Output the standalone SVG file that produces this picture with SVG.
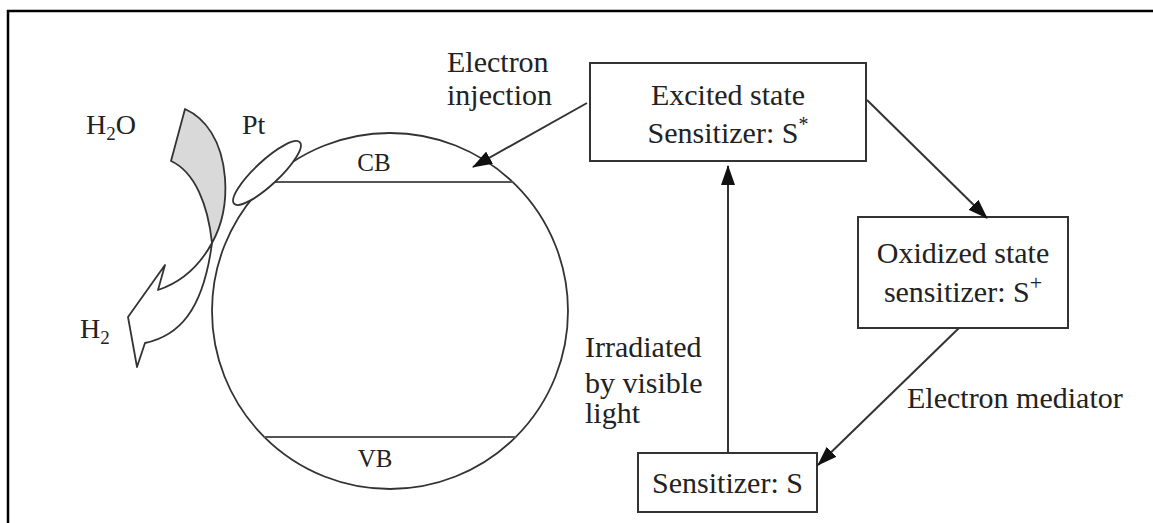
<svg xmlns="http://www.w3.org/2000/svg" width="1153" height="523" viewBox="0 0 1153 523">
  <style>
    .lbl { font-family: "Liberation Serif", "Times New Roman", serif; font-size: 30px; fill: #222; }
    .band { font-family: "Liberation Serif", "Times New Roman", serif; font-size: 25px; fill: #222; }
    .box { fill: #fff; stroke: #333; stroke-width: 2; }
    .edge { fill: none; stroke: #333; stroke-width: 2; }
    .thin { fill: none; stroke: #555; stroke-width: 1.8; }
    .ol { stroke: #333; stroke-width: 1.8; stroke-linejoin: round; }
  </style>
  <defs>
    <marker id="arrow" markerUnits="userSpaceOnUse" markerWidth="20" markerHeight="14" refX="19" refY="7" orient="auto">
      <path d="M0,0 L20,7 L0,14 Z" fill="#111"/>
    </marker>
  </defs>

  <rect width="1153" height="523" fill="#fff"/>

  <!-- frame: top and left rules only -->
  <g id="frame" fill="none" stroke="#000" stroke-width="2.5">
    <line x1="7" y1="11" x2="1153" y2="11"/>
    <line x1="8" y1="10" x2="8" y2="523"/>
  </g>

  <!-- water splitting on the semiconductor particle -->
  <g id="h2o-arrow">
    <path class="ol" fill="#d9d9d9" d="M185,109 C205,118 222,140 225,178 C227,205 222,225 212,243 C208,205 195,172 171,161 Z"/>
    <path class="ol" fill="#fff" d="M212,243 C200,265 182,282 158,290 L165,265 L128,317 L137,367 L145,343 C178,336 203,312 212,243 Z"/>
    <text class="lbl" x="86" y="134" style="font-size:28px">H<tspan dy="6" style="font-size:19px">2</tspan><tspan dy="-6">O</tspan></text>
    <text class="lbl" x="80" y="338" style="font-size:28px">H<tspan dy="6" style="font-size:19px">2</tspan></text>
  </g>

  <g id="particle">
    <circle cx="390" cy="311" r="178" fill="none" stroke="#333" stroke-width="1.8"/>
    <line class="thin" x1="267" y1="182" x2="513" y2="182"/>
    <line class="thin" x1="264" y1="437" x2="516" y2="437"/>
    <text class="band" x="374" y="171" text-anchor="middle">CB</text>
    <text class="band" x="375" y="467" text-anchor="middle">VB</text>
  </g>

  <g id="pt">
    <ellipse cx="267" cy="173" rx="45" ry="12" transform="rotate(-43 267 173)" fill="#fff" stroke="#333" stroke-width="1.8"/>
    <text class="lbl" x="242" y="134" style="font-size:28px">Pt</text>
  </g>

  <!-- sensitizer states -->
  <g id="excited">
    <rect class="box" x="590" y="63" width="276" height="98"/>
    <text class="lbl" x="728" y="105" text-anchor="middle">Excited state</text>
    <text class="lbl" x="728" y="143" text-anchor="middle">Sensitizer: S<tspan dy="-12" style="font-size:20px">*</tspan></text>
  </g>

  <g id="oxidized">
    <rect class="box" x="858" y="217" width="210" height="111"/>
    <text class="lbl" x="963" y="263" text-anchor="middle">Oxidized state</text>
    <text class="lbl" x="963" y="302" text-anchor="middle">sensitizer: S<tspan dy="-12" style="font-size:22px">+</tspan></text>
  </g>

  <g id="ground">
    <rect class="box" x="638" y="453" width="179" height="59"/>
    <text class="lbl" x="727.5" y="493" text-anchor="middle">Sensitizer: S</text>
  </g>

  <!-- transitions -->
  <g id="connectors">
    <line class="edge" x1="587" y1="103" x2="473" y2="167" marker-end="url(#arrow)"/>
    <line class="edge" x1="867" y1="100" x2="987" y2="218" marker-end="url(#arrow)"/>
    <line class="edge" x1="959" y1="328" x2="818" y2="465" marker-end="url(#arrow)"/>
    <line class="edge" x1="728" y1="453" x2="728" y2="166" marker-end="url(#arrow)"/>
  </g>

  <g id="labels">
    <text class="lbl" x="447" y="72">Electron</text>
    <text class="lbl" x="447" y="105">injection</text>
    <text class="lbl" x="585" y="357">Irradiated</text>
    <text class="lbl" x="585" y="393">by visible</text>
    <text class="lbl" x="585" y="423">light</text>
    <text class="lbl" x="907" y="408">Electron mediator</text>
  </g>
</svg>
